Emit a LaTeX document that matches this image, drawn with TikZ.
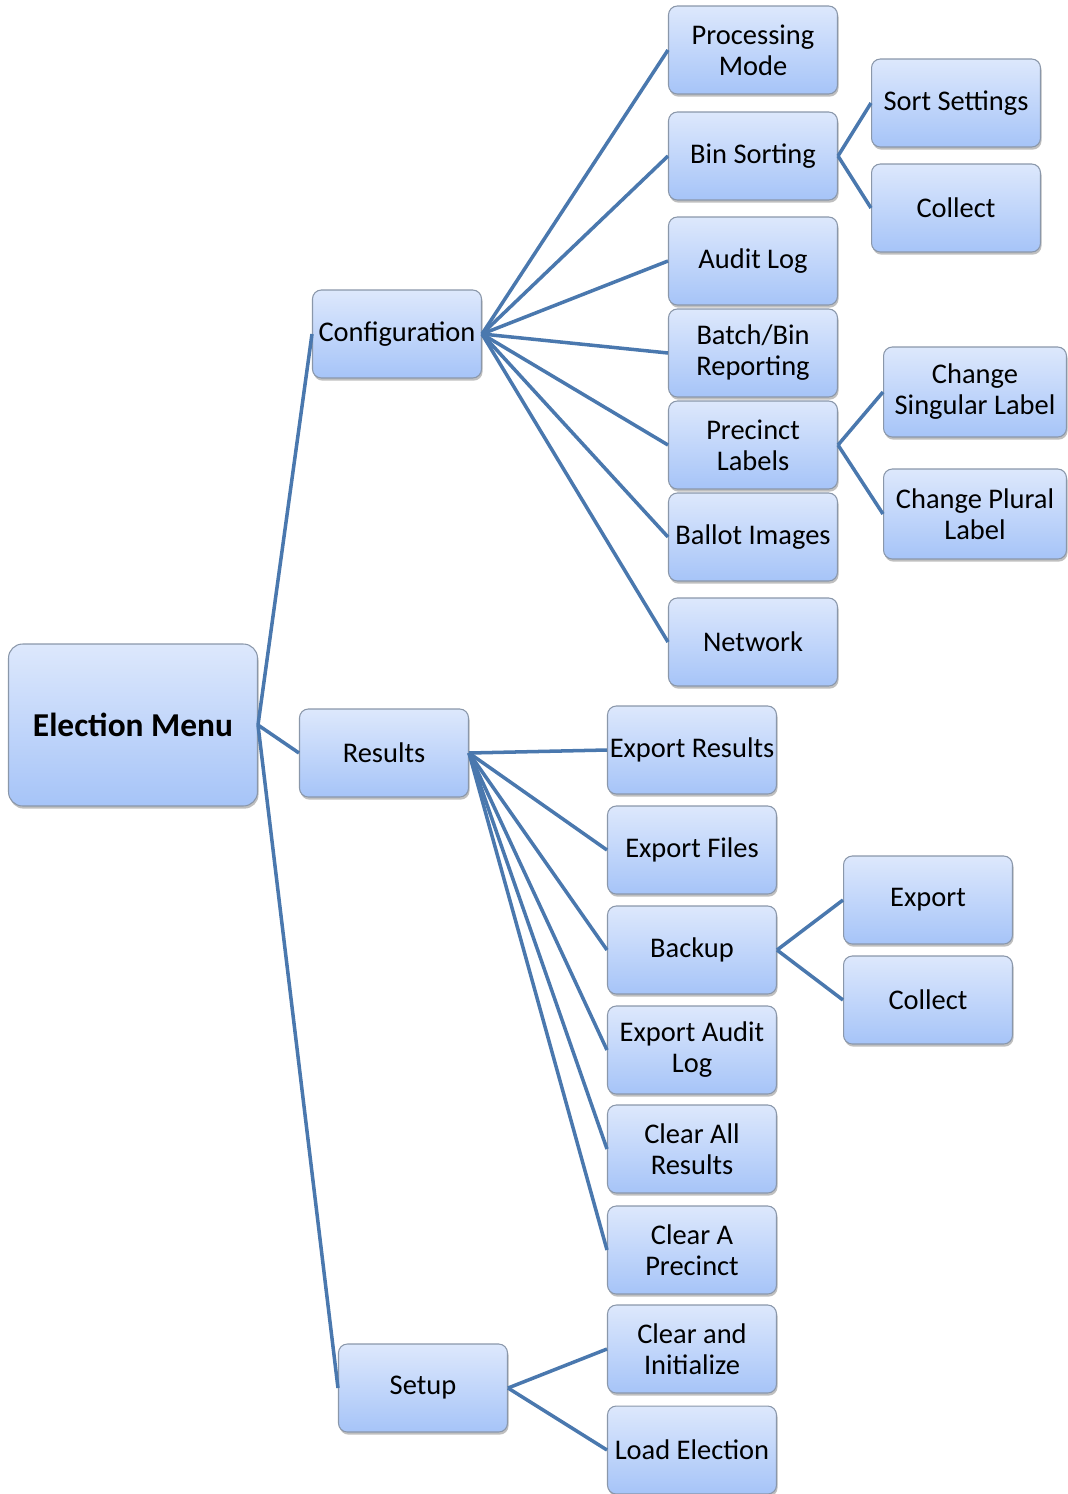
\documentclass[tikz,border=0pt]{standalone}
\usepackage{fontspec}
\setmainfont{Carlito}
\usetikzlibrary{shadows}
\definecolor{boxtop}{HTML}{DDE8FC}
\definecolor{boxbottom}{HTML}{A6C4F8}
\definecolor{boxline}{HTML}{8A97AA}
\definecolor{linkblue}{HTML}{4A78AE}
\tikzset{
  menubox/.style={rounded corners=5pt, draw=boxline, line width=0.6pt,
    top color=boxtop, bottom color=boxbottom,
    drop shadow={shadow xshift=0.6pt, shadow yshift=-1.5pt, opacity=0.5},
    minimum width=3.38cm, minimum height=1.76cm, inner sep=0pt,
    align=center, font=\fontsize{16.2}{17.6}\selectfont},
  widebox/.style={menubox, minimum width=3.66cm, minimum height=1.8cm},
  rootbox/.style={menubox, minimum width=4.98cm, minimum height=3.24cm,
    rounded corners=8pt, font=\fontsize{19}{20}\selectfont\bfseries},
  link/.style={draw=linkblue, line width=2pt}
}
\begin{document}
\begin{tikzpicture}[x=0.02cm,y=-0.02cm]
\useasboundingbox (0,0) rectangle (1068,1494);

\node[rootbox] (root) at (133,725) {Election Menu};

\node[menubox] (conf) at (397,334) {Configuration};
\node[menubox] (res) at (384,753) {Results};
\node[menubox] (setup) at (423,1388) {Setup};

% configuration branch
\node[menubox] (proc) at (753,50) {Processing\\Mode};
\node[menubox] (bins) at (753,156) {Bin Sorting};
\node[menubox] (audit) at (753,261) {Audit Log};
\node[menubox] (batch) at (753,353) {Batch/Bin\\Reporting};
\node[menubox] (prec) at (753,445) {Precinct\\Labels};
\node[menubox] (ballot) at (753,537) {Ballot Images};
\node[menubox] (net) at (753,642) {Network};

\node[menubox] (sort) at (956,103) {Sort Settings};
\node[menubox] (coll1) at (956,208) {Collect};
\node[widebox] (single) at (975,392) {Change\\Singular Label};
\node[widebox] (plural) at (975,514) {Change Plural\\Label};

% results branch
\node[menubox] (expres) at (692,750) {Export Results};
\node[menubox] (expfiles) at (692,850) {Export Files};
\node[menubox] (backup) at (692,950) {Backup};
\node[menubox] (expaudit) at (692,1050) {Export Audit\\Log};
\node[menubox] (clearall) at (692,1149) {Clear All\\Results};
\node[menubox] (clearprec) at (692,1250) {Clear A\\Precinct};

\node[menubox] (export) at (928,900) {Export};
\node[menubox] (coll2) at (928,1000) {Collect};

% setup branch
\node[menubox] (clearinit) at (692,1349) {Clear and\\Initialize};
\node[menubox] (load) at (692,1450) {Load Election};

\draw[link] (root.east) -- (conf.west);
\draw[link] (root.east) -- (res.west);
\draw[link] (root.east) -- (setup.west);

\foreach \n in {proc,bins,audit,batch,prec,ballot,net}
  \draw[link] (conf.east) -- (\n.west);
\draw[link] (bins.east) -- (sort.west);
\draw[link] (bins.east) -- (coll1.west);
\draw[link] (prec.east) -- (single.west);
\draw[link] (prec.east) -- (plural.west);

\foreach \n in {expres,expfiles,backup,expaudit,clearall,clearprec}
  \draw[link] (res.east) -- (\n.west);
\draw[link] (backup.east) -- (export.west);
\draw[link] (backup.east) -- (coll2.west);

\draw[link] (setup.east) -- (clearinit.west);
\draw[link] (setup.east) -- (load.west);
\end{tikzpicture}
\end{document}
